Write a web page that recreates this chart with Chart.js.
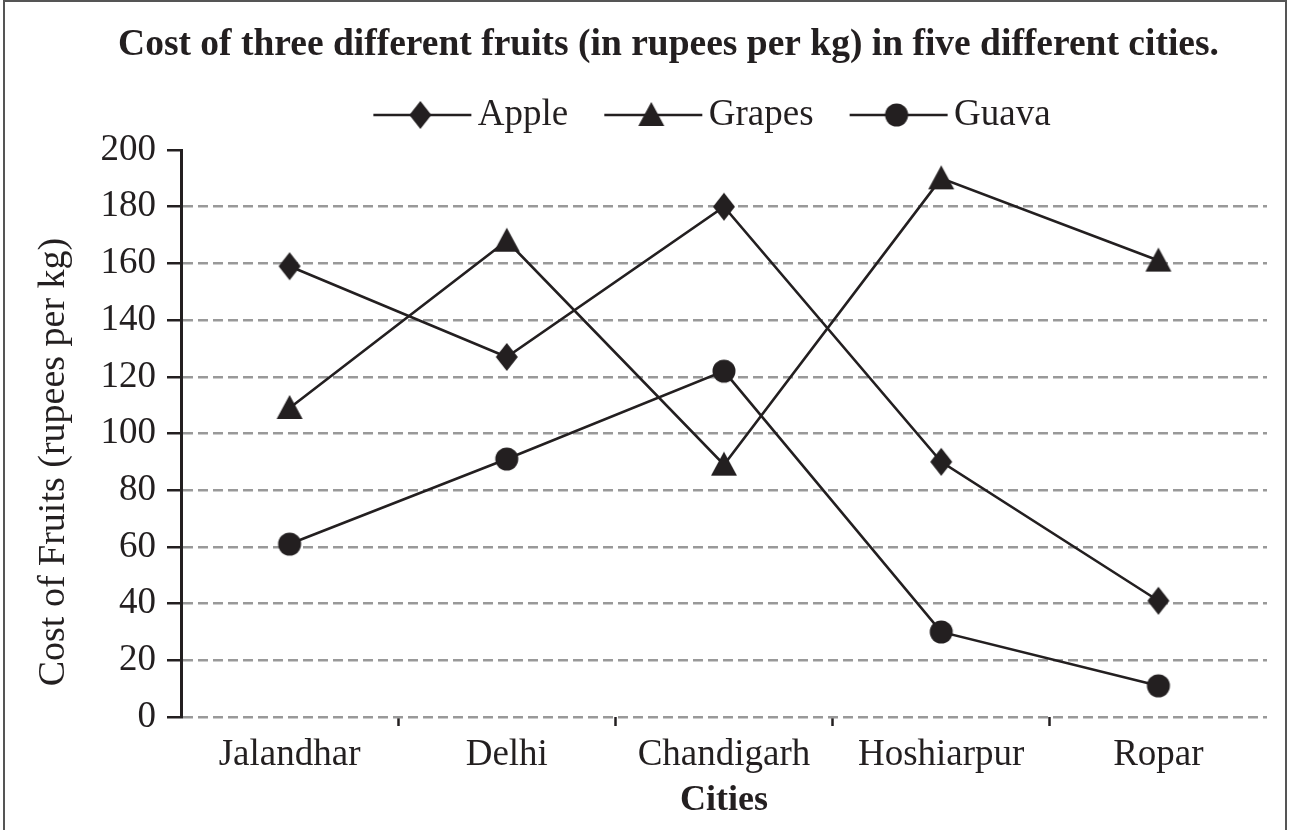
<!DOCTYPE html>
<html>
<head>
<meta charset="utf-8">
<title>Cost of three different fruits</title>
<script src="https://cdn.jsdelivr.net/npm/chart.js@4/dist/chart.umd.min.js"></script>
<style>
  html, body { margin: 0; padding: 0; background: #fff; }
  #contenedor { position: relative; width: 1289px; height: 830px; overflow: hidden; }
  #marco { position: absolute; left: 3px; top: 0px; width: 1280px; height: 840px; border: 2px solid #555; }
  canvas { position: absolute; left: 0; top: 0; }
</style>
</head>
<body>
<div id="contenedor">
  <div id="marco"></div>
  <canvas id="grafico" width="1289" height="830"></canvas>
</div>
<script>
// datos
const ciudades = ["Jalandhar", "Delhi", "Chandigarh", "Hoshiarpur", "Ropar"];
const apple = [159, 127, 180, 90, 41];
const grapes = [109, 168, 89, 190, 161];
const guava = [61, 91, 122, 30, 11];
const nombresSeries = ["Apple", "Grapes", "Guava"];
const marcasEjeY = [0, 20, 40, 60, 80, 100, 120, 140, 160, 180, 200];

const negro = "#231f20";
const gris = "#999999";
const fuente = "'Liberation Serif', 'Times New Roman', serif";

//dibuja la forma de cada serie en un contexto
function dibujarMarca(ctx, tipo, x, y) {
  ctx.beginPath();
  if (tipo === "diamante") {
    ctx.moveTo(x, y - 14);
    ctx.lineTo(x + 11, y);
    ctx.lineTo(x, y + 14);
    ctx.lineTo(x - 11, y);
  } else if (tipo === "triangulo") {
    ctx.moveTo(x, y - 13);
    ctx.lineTo(x + 13, y + 11);
    ctx.lineTo(x - 13, y + 11);
  } else {
    ctx.arc(x, y, 11.5, 0, Math.PI * 2);
  }
  ctx.closePath();
  ctx.fillStyle = negro;
  ctx.fill();
}

//imagen del punto para los datos
function crearMarca(tipo) {
  var c = document.createElement("canvas");
  c.width = 30;
  c.height = 30;
  dibujarMarca(c.getContext("2d"), tipo, 15, 15);
  return c;
}

//imagen de la leyenda: linea con la marca encima
//la caja de la leyenda mide 62, la imagen se centra en ella y sobresale a la izquierda
function crearLeyenda(tipo) {
  var c = document.createElement("canvas");
  c.width = 112;
  c.height = 30;
  var ctx = c.getContext("2d");
  ctx.strokeStyle = negro;
  ctx.lineWidth = 2.5;
  ctx.beginPath();
  ctx.moveTo(1, 15);
  ctx.lineTo(99, 15);
  ctx.stroke();
  dibujarMarca(ctx, tipo, 48, 15);
  return c;
}

const tipos = ["diamante", "triangulo", "circulo"];
const marcas = tipos.map(crearMarca);
const imagenesLeyenda = tipos.map(crearLeyenda);
const valores = [apple, grapes, guava];

var datasets = nombresSeries.map(function (nombre, i) {
  return {
    label: nombre,
    data: valores[i],
    borderColor: negro,
    backgroundColor: negro,
    borderWidth: 2.6,
    pointStyle: marcas[i],
    pointRadius: 12,
    pointHoverRadius: 12,
    tension: 0,
    fill: false,
    clip: false
  };
});

Chart.defaults.font.family = fuente;
Chart.defaults.color = negro;

var ctx = document.getElementById("grafico").getContext("2d");
var grafico = new Chart(ctx, {
  type: "line",
  data: { labels: ciudades, datasets: datasets },
  options: {
    responsive: false,
    animation: false,
    //el relleno izquierdo mueve el titulo hacia la derecha como en la imagen
    layout: { padding: { left: 70, right: 22, top: 0, bottom: 0 } },
    plugins: {
      title: {
        display: true,
        text: "Cost of three different fruits (in rupees per kg) in five different cities.",
        color: negro,
        font: { family: fuente, size: 37.5, weight: "bold" },
        padding: { top: 22.5, bottom: -31 }
      },
      legend: {
        position: "top",
        fullSize: false,
        labels: {
          usePointStyle: true,
          pointStyleWidth: 62,
          padding: 60,
          color: negro,
          font: { family: fuente, size: 37 },
          generateLabels: function (chart) {
            return chart.data.datasets.map(function (ds, i) {
              return {
                text: ds.label,
                pointStyle: imagenesLeyenda[i],
                fontColor: negro,
                fillStyle: negro,
                strokeStyle: negro,
                lineWidth: 0,
                hidden: false,
                datasetIndex: i
              };
            });
          }
        }
      },
      tooltip: { enabled: false }
    },
    scales: {
      x: {
        offset: true,
        grid: {
          offset: true,
          drawOnChartArea: false,
          drawTicks: true,
          tickLength: 9,
          tickWidth: 2.5,
          tickColor: function (c) {
            return (c.type === "tick" && c.index > 0) ? negro : "rgba(0,0,0,0)";
          }
        },
        border: { display: false },
        ticks: {
          color: negro,
          font: { family: fuente, size: 37 },
          padding: 7,
          maxRotation: 0,
          autoSkip: false
        },
        title: {
          display: true,
          text: "Cities",
          color: negro,
          font: { family: fuente, size: 36, weight: "bold" },
          padding: { top: 0, bottom: 8 }
        },
        afterFit: function (s) { s.height = 113; }
      },
      //eje vacio arriba solo para dejar espacio bajo la leyenda
      arriba: {
        type: "category",
        position: "top",
        display: true,
        grid: { display: false },
        ticks: { display: false },
        border: { display: false },
        afterFit: function (s) { s.height = 6.5; }
      },
      y: {
        min: 0,
        max: 200,
        afterBuildTicks: function (s) {
          s.ticks = marcasEjeY.map(function (v) { return { value: v }; });
        },
        grid: {
          color: function (c) {
            return (c.tick && c.tick.value === 200) ? "rgba(0,0,0,0)" : gris;
          },
          lineWidth: 2.5,
          tickColor: negro,
          tickWidth: 2.5,
          tickLength: 14,
          tickBorderDash: []
        },
        border: { display: true, color: negro, width: 3, dash: [10, 5] },
        ticks: {
          color: negro,
          font: { family: fuente, size: 37 },
          padding: 11
        },
        title: {
          display: true,
          text: "Cost of Fruits (rupees per kg)      ",
          color: negro,
          font: { family: fuente, size: 38 },
          padding: { top: -38.8, bottom: 0 }
        },
        afterFit: function (s) { s.width = 111; }
      }
    }
  }
});
</script>
</body>
</html>
